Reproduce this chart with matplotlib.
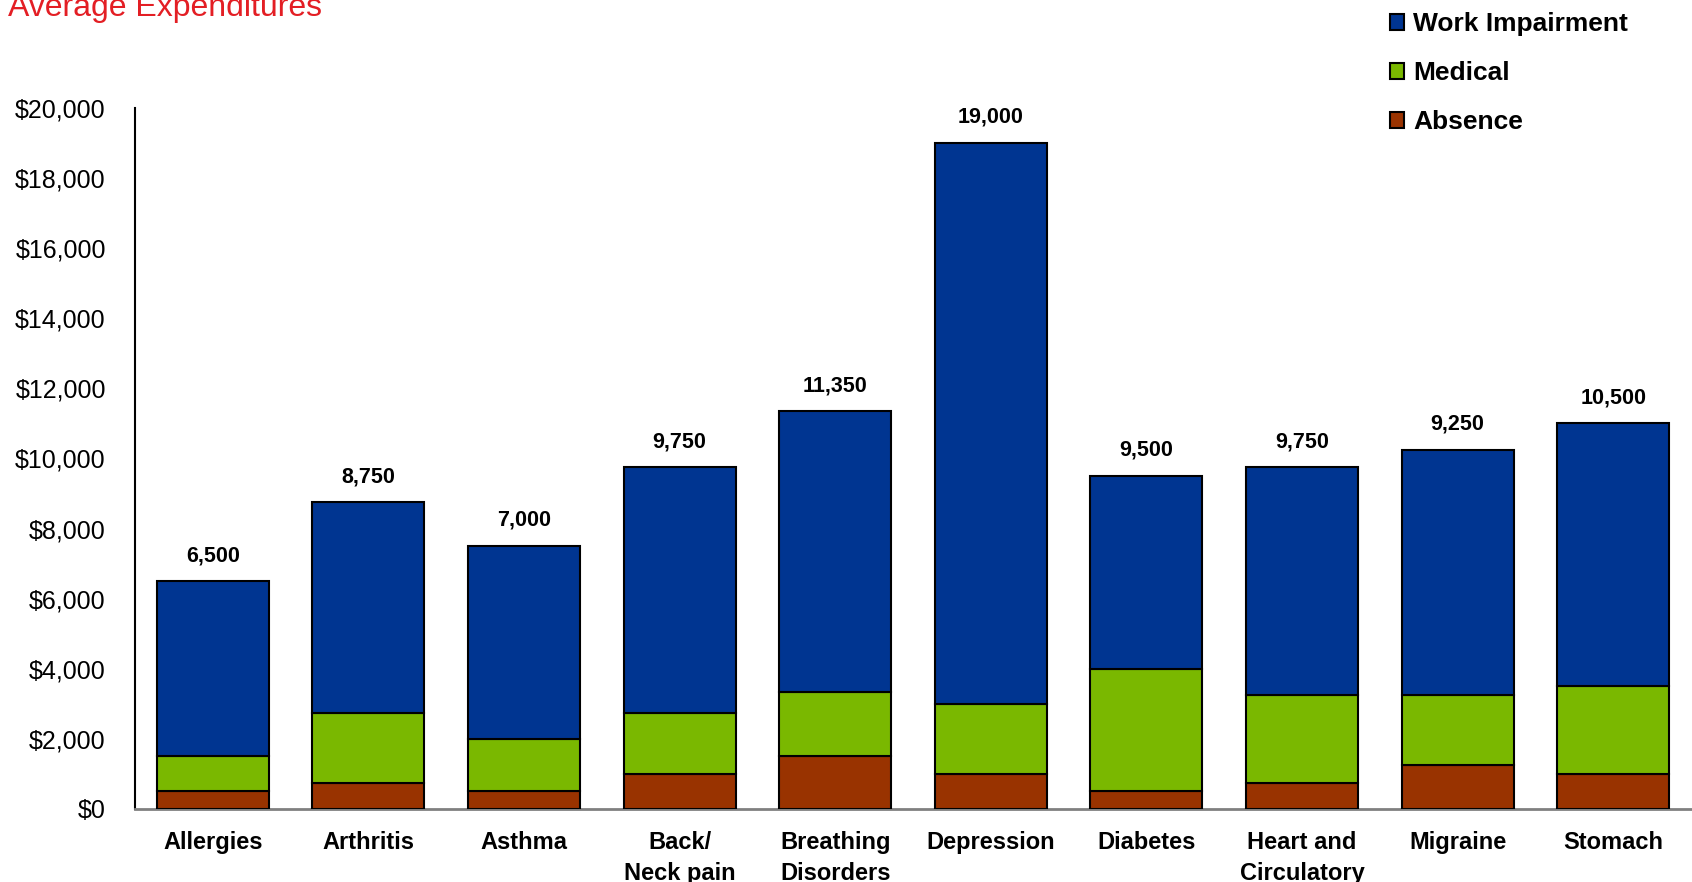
import matplotlib
matplotlib.use('Agg')
import matplotlib.pyplot as plt
import numpy as np
from matplotlib.patches import Patch
from matplotlib.ticker import FuncFormatter

plt.rcParams['font.family'] = ['Liberation Sans', 'DejaVu Sans']

# cost per employee, split by component
conditions = ['Allergies', 'Arthritis', 'Asthma', 'Back/\nNeck pain', 'Breathing\nDisorders',
              'Depression', 'Diabetes', 'Heart and\nCirculatory', 'Migraine', 'Stomach']
absence = [500, 750, 500, 1000, 1500, 1000, 500, 750, 1250, 1000]
medical = [1000, 2000, 1500, 1750, 1850, 2000, 3500, 2500, 2000, 2500]
work_impairment = [5000, 6000, 5500, 7000, 8000, 16000, 5500, 6500, 7000, 7500]
total_labels = [6500, 8750, 7000, 9750, 11350, 19000, 9500, 9750, 9250, 10500]

c_work = '#003591'
c_med = '#7ab800'
c_abs = '#993300'

fig = plt.figure(figsize=(16.92, 8.82), dpi=100)
ax = fig.add_axes([0.0798, 0.0828, 0.9196, 0.7948])

x = np.arange(len(conditions))
w = 0.72
absence = np.array(absence)
medical = np.array(medical)
work_impairment = np.array(work_impairment)

ax.bar(x, absence, w, color=c_abs, edgecolor='black', linewidth=1.5, zorder=3)
ax.bar(x, medical, w, bottom=absence, color=c_med, edgecolor='black', linewidth=1.5, zorder=3)
tops = absence + medical + work_impairment
ax.bar(x, work_impairment, w, bottom=absence + medical, color=c_work, edgecolor='black',
       linewidth=1.5, zorder=3)

for xi, top, lab in zip(x, tops, total_labels):
    ax.annotate(f'{lab:,}', (xi, top), xytext=(0, 14.5), textcoords='offset points',
                ha='center', va='baseline', fontsize=15.5, fontweight='bold')

ax.set_xlim(-0.5, 9.5)
ax.set_ylim(0, 20000)
ax.set_yticks(np.arange(0, 20001, 2000))
ax.yaxis.set_major_formatter(FuncFormatter(lambda v, p: f'${v:,.0f}'))
ax.set_xticks(x)
ax.set_xticklabels(conditions, fontsize=17, fontweight='bold', linespacing=1.45)
ax.tick_params(axis='y', length=0, pad=21, labelsize=18)
ax.tick_params(axis='x', length=0, pad=16)

for s in ['top', 'right']:
    ax.spines[s].set_visible(False)
ax.spines['left'].set_color('black')
ax.spines['left'].set_linewidth(1.5)
ax.spines['bottom'].set_color('#808080')
ax.spines['bottom'].set_linewidth(2)

fig.text(0.005, 0.982, 'Average Expenditures', color='#e31e24', fontsize=23,
         ha='left', va='baseline')

handles = [Patch(facecolor=c_work, edgecolor='black', linewidth=1.5),
           Patch(facecolor=c_med, edgecolor='black', linewidth=1.5),
           Patch(facecolor=c_abs, edgecolor='black', linewidth=1.5)]
leg = fig.legend(handles, ['Work Impairment', 'Medical', 'Absence'],
                 loc='upper left', bbox_to_anchor=(0.815, 0.998), frameon=False,
                 prop={'size': 19, 'weight': 'bold'}, handlelength=0.55, handleheight=0.55,
                 handletextpad=0.35, labelspacing=0.95, borderaxespad=0)

fig.savefig('out.png', dpi=100)
